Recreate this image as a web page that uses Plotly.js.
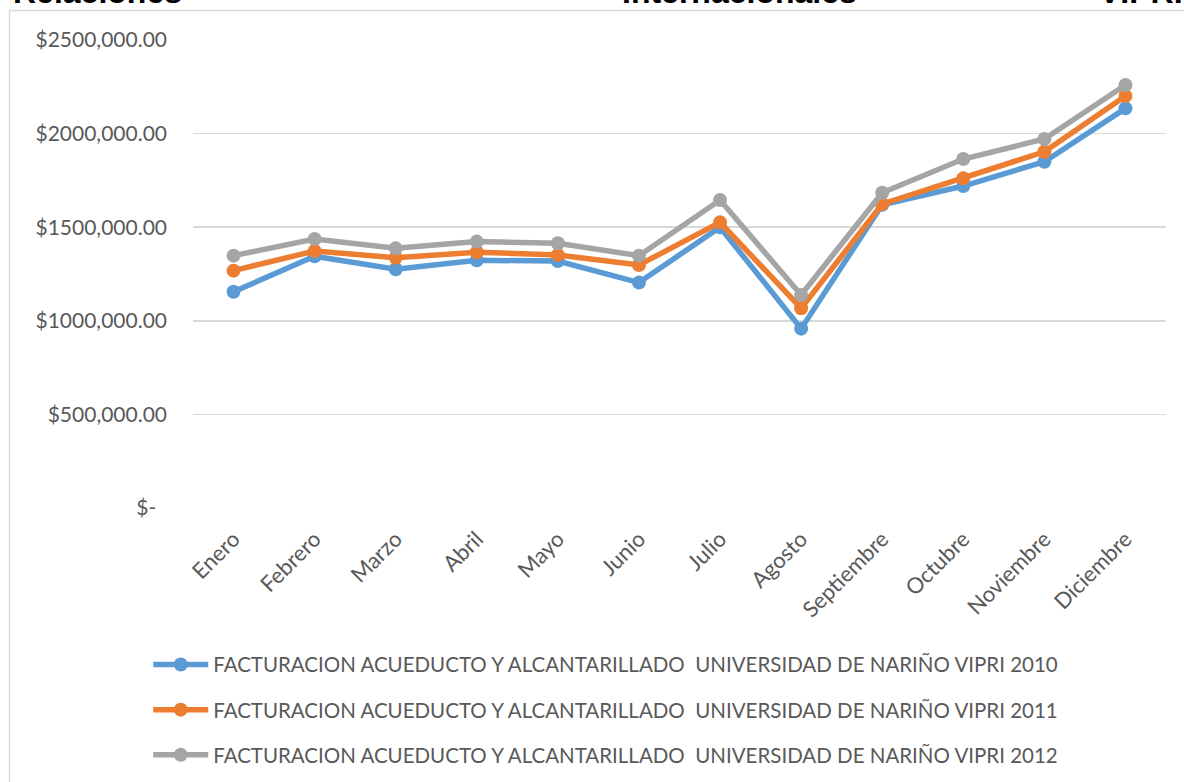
<!DOCTYPE html>
<html>
<head>
<meta charset="utf-8">
<script src="https://cdn.plot.ly/plotly-3.0.1.min.js"></script>
<style>
html,body{margin:0;padding:0;background:#fff;overflow:hidden;}
#chart{width:1184px;height:782px;}
</style>
</head>
<body>
<div id="chart"></div>
<script>
const months = ["Enero","Febrero","Marzo","Abril","Mayo","Junio","Julio","Agosto","Septiembre","Octubre","Noviembre","Diciembre"];
const seriesNames = [
  "FACTURACION ACUEDUCTO Y ALCANTARILLADO  UNIVERSIDAD DE NARIÑO VIPRI 2010",
  "FACTURACION ACUEDUCTO Y ALCANTARILLADO  UNIVERSIDAD DE NARIÑO VIPRI 2011",
  "FACTURACION ACUEDUCTO Y ALCANTARILLADO  UNIVERSIDAD DE NARIÑO VIPRI 2012"
];
const values2010 = [1155000,1345000,1275000,1323000,1319000,1204000,1500000,958000,1620000,1720000,1850000,2135000];
const values2011 = [1268000,1373000,1337000,1366000,1352000,1298000,1526000,1067000,1624000,1761000,1903000,2201000];
const values2012 = [1348000,1437000,1387000,1423000,1414000,1348000,1645000,1138000,1684000,1864000,1971000,2260000];
const colors = ["#5B9BD5","#ED7D31","#A5A5A5"];
const yTickVals = [0,500000,1000000,1500000,2000000,2500000];
const yTickText = ["$-\u00A0\u00A0","$500,000.00","$1000,000.00","$1500,000.00","$2000,000.00","$2500,000.00"];
const headingTexts = ["Relaciones","Internacionales","VIPRI"];

const allValues = [values2010, values2011, values2012];
const traces = allValues.map((v, i) => ({
  type: "scatter",
  mode: "lines+markers",
  x: months,
  y: v,
  name: seriesNames[i],
  legendgroup: "g" + i,
  line: {color: colors[i], width: 5.5},
  marker: {color: colors[i], size: 14},
  hoverinfo: "skip"
}));

const fontFam = "Lato, 'Open Sans', sans-serif";
const layout = {
  width: 1184, height: 782,
  margin: {l: 193, r: 18, t: 40, b: 274, autoexpand: false},
  paper_bgcolor: "#ffffff",
  plot_bgcolor: "#ffffff",
  font: {family: fontFam, size: 20, color: "#595959"},
  xaxis: {
    type: "category",
    range: [-0.5, 11.5],
    tickangle: -45,
    showgrid: false,
    showline: false,
    zeroline: false,
    ticks: "",
    ticklabelstandoff: 13,
    tickfont: {family: fontFam, size: 22, color: "#595959"},
    fixedrange: true
  },
  yaxis: {
    range: [0, 2500000],
    tickvals: yTickVals,
    ticktext: yTickText,
    showgrid: true,
    gridcolor: "#D9D9D9",
    gridwidth: 1.5,
    zeroline: false,
    showline: false,
    ticks: "",
    ticklabelstandoff: 25,
    tickfont: {family: fontFam, size: 21, color: "#595959"},
    fixedrange: true
  },
  showlegend: true,
  legend: {
    orientation: "v",
    x: -0.046, xanchor: "left",
    y: -0.292, yanchor: "top",
    tracegroupgap: 15.5,
    itemwidth: 55,
    font: {family: fontFam, size: 20.5, color: "#595959"},
    bgcolor: "rgba(0,0,0,0)"
  },
  shapes: [{
    type: "rect", xref: "paper", yref: "paper",
    x0: (9.5 - 193) / 973, x1: 1.2,
    y0: -1, y1: (508 - 10.5) / 468,
    line: {color: "#D9D9D9", width: 1.5},
    fillcolor: "rgba(0,0,0,0)",
    layer: "below"
  }],
  annotations: [
    {text: headingTexts[0], x: (11 - 193) / 973},
    {text: headingTexts[1], x: (620 - 193) / 973},
    {text: headingTexts[2], x: (1097 - 193) / 973}
  ].map(a => ({
    text: "<b>" + a.text + "</b>",
    xref: "paper", yref: "paper",
    x: a.x, xanchor: "left",
    y: (508 - 12) / 468, yanchor: "bottom",
    showarrow: false,
    font: {family: "'Liberation Sans', Arial, sans-serif", size: 32, color: "#000000"}
  }))
};

Plotly.newPlot("chart", traces, layout, {displayModeBar: false, staticPlot: true});
</script>
</body>
</html>
